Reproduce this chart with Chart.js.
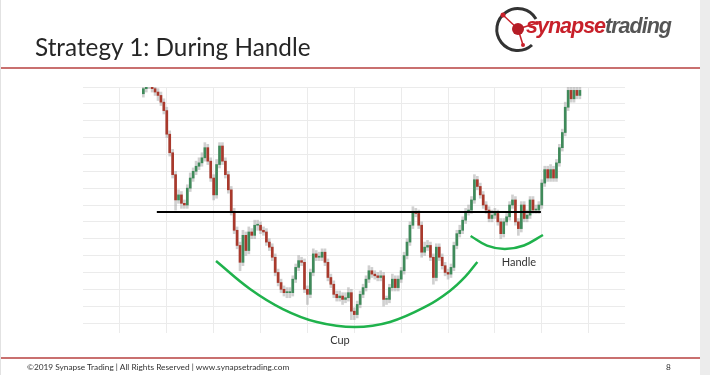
<!DOCTYPE html>
<html><head><meta charset="utf-8">
<script src="https://cdn.jsdelivr.net/npm/chart.js@4.4.1/dist/chart.umd.min.js"></script>
<style>
html,body{margin:0;padding:0;background:#fff;width:710px;height:375px;overflow:hidden;}
#slide{position:relative;width:710px;height:375px;font-family:Lato,'Open Sans',sans-serif;}
#chartWrap{position:absolute;left:0;top:0;width:710px;height:375px;}
.title{position:absolute;left:35px;top:32px;font-size:24.3px;color:#262626;white-space:nowrap;}
.rule{position:absolute;left:0;width:700px;background:#c9706f;}
.footer{position:absolute;left:27px;top:362px;font-size:8.3px;color:#333;white-space:nowrap;}
.page{position:absolute;left:666px;top:362px;font-size:8.3px;color:#333;}
.rightbar{position:absolute;left:700px;top:0;width:10px;height:375px;background:#ececec;}
.leftbar{position:absolute;left:0;top:0;width:1px;height:375px;background:#e2e2e2;}
.logo{position:absolute;left:526px;top:14px;font-family:'Liberation Sans',Arial,sans-serif;font-weight:bold;font-style:italic;font-size:21.5px;letter-spacing:-1px;white-space:nowrap;}
.logo .s{color:#c8202a;} .logo .t{color:#555;}
svg.icon{position:absolute;left:490px;top:2px;}
</style></head>
<body><div id="slide">
<div id="chartWrap"><canvas id="c" width="710" height="375"></canvas></div>
<div class="title">Strategy 1: During Handle</div>
<div class="rule" style="top:67px;height:1.5px;"></div>
<div class="rule" style="top:357px;height:2px;"></div>
<div class="footer">©2019 Synapse Trading | All Rights Reserved | www.synapsetrading.com</div>
<div class="page">8</div>
<svg class="icon" width="60" height="52" viewBox="490 2 60 52">
  <path d="M 536 19 A 21 21 0 1 0 532 45" fill="none" stroke="#333" stroke-width="3"/>
  <line x1="503" y1="15" x2="518" y2="29" stroke="#c8202a" stroke-width="1.5"/>
  <line x1="518" y1="29" x2="537" y2="23" stroke="#c8202a" stroke-width="1.5"/>
  <line x1="518" y1="29" x2="523" y2="45" stroke="#c8202a" stroke-width="1.5"/>
  <circle cx="503" cy="15" r="2.5" fill="#c8202a"/>
  <circle cx="537" cy="23" r="2" fill="#c8202a"/>
  <circle cx="523" cy="45" r="2" fill="#c8202a"/>
  <circle cx="518" cy="29" r="6" fill="#b51c25"/>
</svg>
<div class="logo"><span class="s">synapse</span><span class="t">trading</span></div>
<div class="rightbar"></div><div class="leftbar"></div>
</div>
<script>
// ---- candle data (index = trading session) ----
const opens = [236,239,241,243,239,237,235,231,226,212,
201,188,173,176,171,170,180,186,190,193,
195,198,204,196,186,176,194,205,196,188,
179,166,155,146,136,152,143,154,152,158,
158,155,154,148,145,139,130,124,120,118,
118,118,126,133,137,136,120,117,130,141,
139,139,142,136,127,123,117,115,116,114,
115,118,107,105,111,117,121,126,131,129,
128,127,128,114,114,121,126,121,126,131,
140,148,158,166,165,158,142,145,146,139,
127,145,139,134,130,129,133,146,153,155,
161,166,167,173,185,181,176,170,167,162,
164,165,160,153,160,163,170,173,160,156,
170,162,164,173,167,167,170,183,191,186,
191,186,195,204,213,228,238,233,238,235];
const closes = [239,241,243,239,237,235,231,226,212,201,
188,173,176,171,170,180,186,190,193,195,
198,204,196,186,176,194,205,196,188,179,
166,155,146,136,152,143,154,152,158,158,
155,154,148,145,139,130,124,120,118,118,
118,126,133,137,136,120,117,130,141,139,
139,142,136,127,123,117,115,116,114,115,
118,107,105,111,117,121,126,131,129,128,
127,128,114,114,121,126,121,126,131,140,
148,158,166,165,158,142,145,146,139,127,
145,139,134,130,129,133,146,153,155,161,
166,167,173,185,181,176,170,167,162,164,
165,160,153,160,163,170,173,160,156,170,
162,164,173,167,167,170,183,191,186,191,
186,195,204,213,228,238,233,238,235,238];
const highs = [241,243,246,245,241,239,237,233,228,214,
203,190,179,178,173,182,189,192,196,198,
201,207,206,198,188,197,207,207,198,190,
181,168,157,148,155,154,157,156,161,161,
160,157,156,150,147,141,132,126,122,121,
121,128,135,140,139,138,122,132,144,143,
142,144,144,138,129,125,119,119,118,118,
121,120,109,113,119,123,128,134,133,131,
130,131,130,116,123,129,128,128,133,142,
150,160,169,168,167,160,148,149,148,141,
147,147,141,136,132,135,148,155,158,163,
168,170,175,188,187,183,178,172,169,167,
168,167,162,162,165,172,176,175,162,172,
172,167,175,175,170,172,185,193,193,194,
193,197,206,215,231,241,240,241,240,241];
const lows = [234,237,239,237,235,232,229,224,210,199,
186,167,171,168,168,168,178,184,188,191,
193,196,194,184,173,174,192,194,186,177,
164,153,144,131,134,140,141,150,150,155,
153,152,146,143,137,128,122,118,116,115,
115,116,124,131,134,118,111,115,128,137,
137,137,134,125,121,115,113,113,111,112,
113,102,102,103,109,115,119,124,127,126,
125,125,110,111,112,119,119,119,124,129,
138,146,156,163,156,139,140,143,137,123,
125,137,132,128,126,127,131,144,151,153,
159,164,165,171,179,174,168,165,160,160,
162,158,150,151,158,161,168,158,152,154,
160,160,162,165,165,165,168,181,184,184,
184,184,193,202,211,226,231,231,233,233];

// ---- annotations (session index, price) ----
const resistanceX = [4.6, 135.7];
const resistanceY = [165.8, 165.8];
const cupX = [24.8, 36.4, 47.6, 59.2, 72.2, 84.2, 96.8, 104.6, 109.8, 114.0];
const cupY = [136.8, 120.2, 108.3, 100.6, 97.6, 100.6, 110.1, 119.0, 127.3, 136.2];
const handleX = [111.7, 117.3, 123.4, 129.9, 136.4];
const handleY = [151.6, 145.9, 143.9, 146.0, 152.2];
const labelTexts = ['Cup', 'Handle'];
const labelX = [67.1, 128.2];
const labelY = [89.9, 136.2];

// ---- axis grid positions ----
const xGridTicks = [-8, 8, 24, 40, 56, 72, 88, 104, 120, 136, 152];
const yGridTicks = [100,110,120,130,140,150,160,170,180,190,200,210,220,230,240];

const UP = '#3f8a5a', DOWN = '#a9392c';
const idx = closes.map((_, i) => i);
const bodyColors = idx.map(i => closes[i] >= opens[i] ? UP : DOWN);

const labelPlugin = {
  id: 'labels',
  afterDatasetsDraw(chart) {
    const {ctx, scales: {x, y}} = chart;
    ctx.save();
    ctx.font = '11px Lato, "Open Sans", sans-serif';
    ctx.fillStyle = '#333';
    ctx.textAlign = 'center';
    ctx.textBaseline = 'middle';
    labelTexts.forEach((t, k) => ctx.fillText(t, x.getPixelForValue(labelX[k]), y.getPixelForValue(labelY[k])));
    ctx.restore();
  }
};

new Chart(document.getElementById('c'), {
  type: 'bar',
  data: {
    datasets: [
      {type: 'line', data: resistanceX.map((v, k) => ({x: v, y: resistanceY[k]})), borderColor: '#000', borderWidth: 2, pointRadius: 0, order: 0},
      {type: 'line', data: cupX.map((v, k) => ({x: v, y: cupY[k]})), borderColor: '#1fb24c', borderWidth: 2.5, pointRadius: 0, tension: 0.4, order: 0, clip: false},
      {type: 'line', data: handleX.map((v, k) => ({x: v, y: handleY[k]})), borderColor: '#1fb24c', borderWidth: 2.5, pointRadius: 0, tension: 0.4, order: 0, clip: false},
      {data: idx.map(i => ({x: i, y: [opens[i], closes[i]]})), backgroundColor: bodyColors, barThickness: 2, grouped: false, order: 1, minBarLength: 1},
      {data: idx.map(i => ({x: i, y: [lows[i], highs[i]]})), backgroundColor: 'rgba(150,150,150,0.45)', barThickness: 2, grouped: false, order: 2}
    ]
  },
  options: {
    responsive: false, animation: false,
    layout: {padding: {left: 83, top: 87, right: 85, bottom: 42}},
    plugins: {legend: {display: false}, tooltip: {enabled: false}},
    scales: {
      x: {type: 'linear', min: -20.6, max: 164.4, offset: false,
          afterBuildTicks: s => { s.ticks = xGridTicks.map(v => ({value: v})); },
          ticks: {display: false}, border: {display: false},
          grid: {color: '#ebebeb', drawTicks: false, lineWidth: 1, offset: false}},
      y: {type: 'linear', min: 94.07, max: 240,
          afterBuildTicks: s => { s.ticks = yGridTicks.map(v => ({value: v})); },
          ticks: {display: false}, border: {display: false},
          grid: {color: '#ebebeb', drawTicks: false, lineWidth: 1}}
    }
  },
  plugins: [labelPlugin]
});
</script>
</body></html>
